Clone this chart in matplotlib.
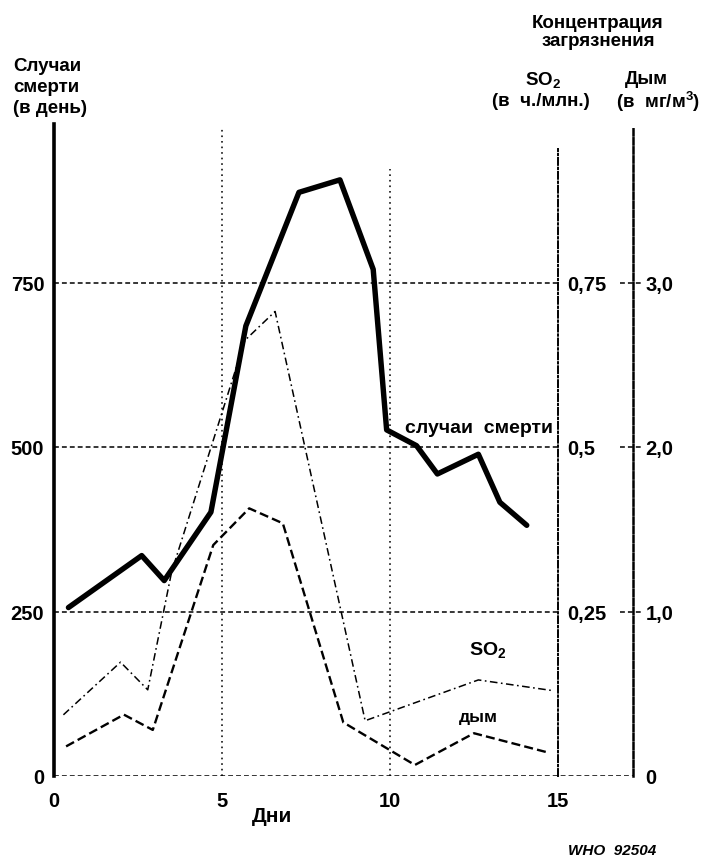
import numpy as np
import matplotlib
matplotlib.use('Agg')
from matplotlib import pyplot as plt

plt.rcParams['font.family'] = ['Liberation Sans', 'DejaVu Sans']
plt.rcParams['font.weight'] = 'bold'
plt.rcParams['mathtext.fontset'] = 'custom'
plt.rcParams['mathtext.rm'] = 'Liberation Sans:bold'
plt.rcParams['mathtext.it'] = 'Liberation Sans:italic:bold'
plt.rcParams['mathtext.bf'] = 'Liberation Sans:bold'
plt.rcParams['lines.scale_dashes'] = False

# days (x) and values
deaths_x = [0.43, 2.61, 3.28, 4.67, 5.71, 7.29, 8.51, 9.5, 9.9, 10.79, 11.41, 12.63, 13.27, 14.07]
deaths = [256, 335, 297, 401, 684, 887, 906, 770, 526, 502, 459, 489, 416, 381]

so2_x = [0.28, 1.98, 2.79, 3.5, 5.68, 6.58, 9.26, 12.63, 14.81]
so2 = [0.093, 0.173, 0.131, 0.31, 0.662, 0.706, 0.084, 0.146, 0.130]

smoke_x = [0.36, 2.08, 2.94, 4.74, 5.81, 6.81, 8.61, 10.74, 12.5, 14.68]
smoke = [0.18, 0.373, 0.28, 1.404, 1.627, 1.536, 0.326, 0.067, 0.26, 0.144]

x_ticks = [0, 5, 10, 15]
death_ticks = [0, 250, 500, 750]
so2_ticks = [0.25, 0.5, 0.75]
so2_labels = ['0,25', '0,5', '0,75']
smoke_ticks = [0, 1, 2, 3]
smoke_labels = ['0', '1,0', '2,0', '3,0']

W, H = 702, 862
px_x = 33.6      # pixels per day
px_y = 164.5     # pixels per 250 deaths
x0, y0 = 54, 777
right_px, top_px = 690, 125
xmax = (right_px - x0) / px_x
ymax = (y0 - top_px) / px_y * 250
so2_axis = 15
smoke_axis = (633 - x0) / px_x

fig = plt.figure(figsize=(W / 100, H / 100), dpi=100)
ax = fig.add_axes([x0 / W, (H - y0) / H, (right_px - x0) / W, (y0 - top_px) / H])
ax.set_xlim(0, xmax)
ax.set_ylim(0, ymax)
for s in ['top', 'right', 'bottom']:
    ax.spines[s].set_visible(False)
ax.spines['left'].set_linewidth(2.6)
ax.spines['left'].set_bounds(0, ymax)
ax.set_xticks(x_ticks)
ax.set_yticks(death_ticks)
ax.tick_params(axis='x', length=0, pad=11, labelsize=14.5)
ax.tick_params(axis='y', length=0, pad=7, labelsize=14.5)

# grid
grid_ls = (0, (3.5, 2.2))
ax.hlines(death_ticks[1:], 0, so2_axis, colors='k', lw=1.1, linestyles=[grid_ls])
ax.hlines(death_ticks[1:], smoke_axis - 0.4, smoke_axis + 0.3, colors='k', lw=1.1, linestyles=[grid_ls])
ax.hlines(0, 0, smoke_axis, colors='k', lw=1.1, linestyles=[grid_ls])
dot_ls = (0, (1.2, 2.8))
ax.vlines(5, 0, 985, colors='k', lw=1.1, linestyles=[dot_ls])
ax.vlines(10, 0, 922, colors='k', lw=1.1, linestyles=[dot_ls])

ax.plot(deaths_x, deaths, color='k', lw=3.9, solid_joinstyle='round', solid_capstyle='round', zorder=5)

# SO2 axis
ax2 = ax.twinx()
ax2.set_ylim(0, ymax / 1000)
for s in ['top', 'left', 'bottom']:
    ax2.spines[s].set_visible(False)
ax2.spines['right'].set_position(('data', so2_axis))
ax2.spines['right'].set_linestyle((0, (5, 2, 1, 2)))
ax2.spines['right'].set_linewidth(1.4)
ax2.spines['right'].set_bounds(0, 0.953)
ax2.set_yticks(so2_ticks)
ax2.set_yticklabels(so2_labels)
ax2.tick_params(axis='y', length=0, pad=7, labelsize=14.5)
ax2.plot(so2_x, so2, color='k', lw=1.1, linestyle=(0, (5.5, 2.5, 1.2, 2.5)))

# smoke axis
ax3 = ax.twinx()
ax3.set_ylim(0, ymax / 250)
for s in ['top', 'left', 'bottom']:
    ax3.spines[s].set_visible(False)
ax3.spines['right'].set_position(('data', smoke_axis))
ax3.spines['right'].set_linestyle((0, (4.5, 2)))
ax3.spines['right'].set_linewidth(1.8)
ax3.spines['right'].set_bounds(0, 985 / 250)
ax3.set_yticks(smoke_ticks)
ax3.set_yticklabels(smoke_labels)
ax3.tick_params(axis='y', length=0, pad=9, labelsize=14.5)
ax3.plot(smoke_x, smoke, color='k', lw=1.7, linestyle=(0, (6.5, 3)))

# in-plot labels
ax.text(14.85, 530, 'случаи  смерти', ha='right', va='center', fontsize=14)
ax.text(12.9, 193, 'SO$_2$', ha='center', va='center', fontsize=14)
ax.text(12.62, 91, 'дым', ha='center', va='center', fontsize=12.5)

# headers
fig.text(13 / W, 1 - 58 / H, 'Случаи\nсмерти\n(в день)', ha='left', va='top', fontsize=13.5, linespacing=1.3)
fig.text(598 / W, 1 - 15 / H, 'Концентрация\nзагрязнения', ha='center', va='top', fontsize=13.5, linespacing=1.1)
fig.text(543 / W, 1 - 80 / H, 'SO$_2$', ha='center', va='center', fontsize=13.5)
fig.text(646 / W, 1 - 80 / H, 'Дым', ha='center', va='center', fontsize=13.5)
fig.text(541 / W, 1 - 102 / H, '(в  ч./млн.)', ha='center', va='center', fontsize=13.5)
fig.text(700 / W, 1 - 102 / H, '(в  мг/м$^3$)', ha='right', va='center', fontsize=13.5)

fig.text((x0 + 6.5 * px_x) / W, 1 - 817 / H, 'Дни', ha='center', va='center', fontsize=15)
fig.text(612 / W, 1 - 851 / H, 'WHO  92504', ha='center', va='center', fontsize=11, fontstyle='italic')

fig.savefig('out.png', dpi=100)
